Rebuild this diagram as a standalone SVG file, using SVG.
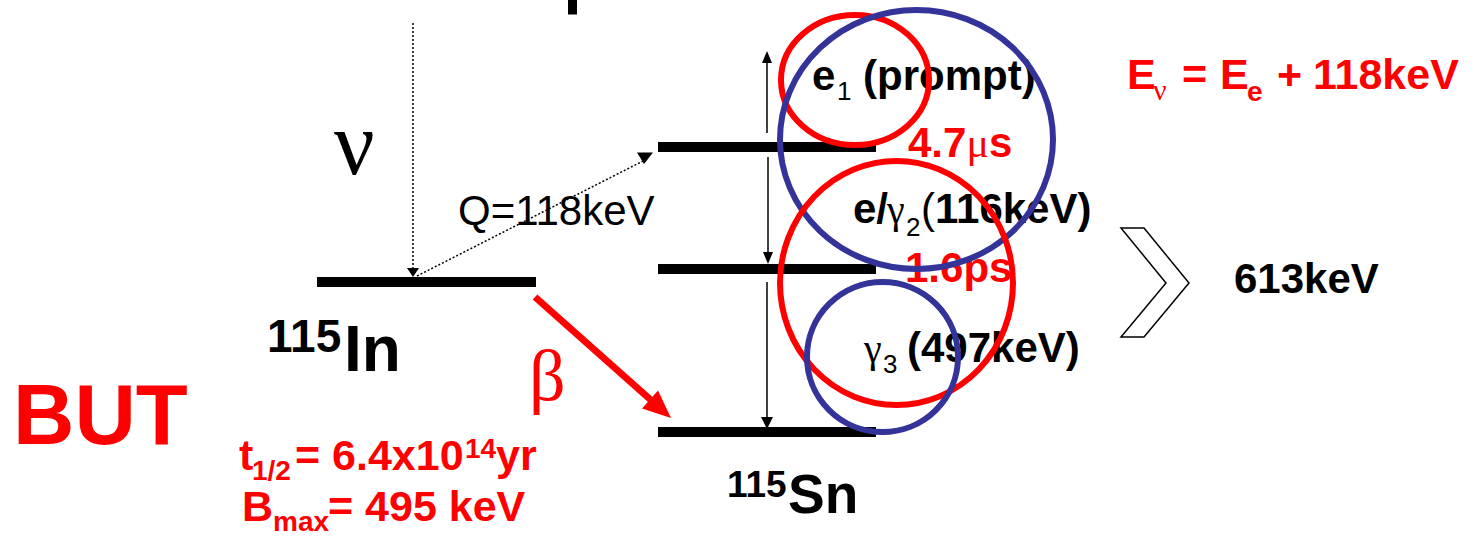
<svg xmlns="http://www.w3.org/2000/svg" width="1474" height="536" viewBox="0 0 1474 536">
<style>
.b{font-family:"Liberation Sans",Arial,sans-serif;font-weight:bold;font-size:42px;fill:#000}
.r{fill:#ff0000}
.n{font-family:"Liberation Sans",Arial,sans-serif;font-weight:normal}
.s{font-family:"Liberation Serif","Times New Roman",serif;font-weight:normal}
.lvl{fill:#000}
.dot{stroke:#000;stroke-width:1.5;stroke-dasharray:2 2;fill:none}
.thin{stroke:#000;stroke-width:1.5;fill:none}
.rc{fill:none;stroke:#ff0000;stroke-width:6}
.bc{fill:none;stroke:#333399;stroke-width:6}
</style>
<rect width="1474" height="536" fill="#fff"/>
<rect x="568" y="0" width="9" height="14.5" fill="#000"/>

<g id="in-level">
<rect class="lvl" x="317" y="277" width="219" height="10"/>
<text class="b"><tspan x="267" y="352" font-size="46">115</tspan><tspan x="344" y="371" font-size="64">In</tspan></text>
</g>
<g id="sn-levels">
<rect class="lvl" x="658" y="142" width="218" height="10"/>
<rect class="lvl" x="658" y="264" width="218" height="10"/>
<rect class="lvl" x="658" y="427" width="218" height="10"/>
<text class="b"><tspan x="727" y="497" font-size="37">115</tspan><tspan x="788" y="513" font-size="55">Sn</tspan></text>
</g>

<g id="connectors">
<line class="dot" x1="413" y1="23" x2="413" y2="268"/>
<polygon points="407,268 419,268 413,277" fill="#000"/>
<line class="dot" x1="417" y1="276" x2="645" y2="160"/>
<polygon points="637,152.5 653,152.5 644,164" fill="#000"/>
<line class="thin" x1="767" y1="133" x2="767" y2="62"/>
<polygon points="762,63 772,63 767,51" fill="#000"/>
<line class="thin" x1="768" y1="157" x2="768" y2="252"/>
<polygon points="763,252 773,252 768,264" fill="#000"/>
<line class="thin" x1="767" y1="282" x2="767" y2="417"/>
<polygon points="761,417 773,417 767,429" fill="#000"/>
<line x1="535" y1="297" x2="652" y2="401" stroke="#ff0000" stroke-width="7"/>
<polygon points="671,418 642,408.4 658,390.4" fill="#ff0000"/>
<polygon points="1121,228 1144,228 1189,283 1144,337 1121,337 1166,283 1121,228" fill="#fff" stroke="#000" stroke-width="1.5" stroke-linejoin="miter"/>
</g>

<g id="labels">
<text class="s" x="334" y="174" font-size="90">ν</text>
<text class="b n" x="458" y="225">Q=118keV</text>
<text class="s r" x="529" y="400" font-size="72">β</text>
<text class="b r" x="13" y="444" style="font-size:85px">BUT</text>
<text class="b r" style="font-size:43px"><tspan x="239" y="470">t</tspan><tspan x="252" y="480" font-size="28">1/2</tspan><tspan x="295" y="470">= 6.4x10</tspan><tspan x="465" y="458" font-size="28">14</tspan><tspan x="496" y="470">yr</tspan></text>
<text class="b r" style="font-size:43px"><tspan x="242" y="521">B</tspan><tspan x="273" y="531" font-size="28">max</tspan><tspan x="328" y="521">= 495 keV</tspan></text>
</g>

<g id="transitions">
<text class="b"><tspan x="812" y="90">e</tspan><tspan x="837" y="100" font-size="26" class="n">1</tspan><tspan x="863" y="90">(prompt)</tspan></text>
<text class="b r" x="908" y="157">4.7<tspan class="s" font-weight="bold">μ</tspan>s</text>
<text class="b"><tspan x="853" y="223">e/</tspan><tspan x="887" y="223" class="s" font-size="40">γ</tspan><tspan x="906" y="236" font-size="26" class="n">2</tspan><tspan x="921" y="223" class="n">(</tspan><tspan x="935" y="223">116keV)</tspan></text>
<text class="b r" x="905" y="282">1.6ps</text>
<text class="b"><tspan x="864" y="362" class="s" font-size="40">γ</tspan><tspan x="883" y="373" font-size="26" class="n">3</tspan><tspan x="907" y="362">(497keV)</tspan></text>
</g>

<g id="summary">
<text class="b"  x="1234" y="293">613keV</text>
<text class="b r" style="font-size:43px"><tspan x="1127" y="89">E</tspan><tspan x="1153" y="100" class="s" font-size="30">ν</tspan><tspan x="1182" y="89">=</tspan><tspan x="1220" y="89">E</tspan><tspan x="1247" y="101" font-size="28">e</tspan><tspan x="1277" y="89">+</tspan><tspan x="1313" y="89">118keV</tspan></text>
</g>

<g id="circles">
<ellipse class="rc" cx="855" cy="80" rx="74" ry="65"/>
<ellipse class="bc" cx="916.5" cy="139.5" rx="136.5" ry="129.5"/>
<ellipse class="rc" cx="896.5" cy="283" rx="116.5" ry="122"/>
<ellipse class="bc" cx="882.5" cy="357" rx="75.5" ry="75"/>
</g>
</svg>
